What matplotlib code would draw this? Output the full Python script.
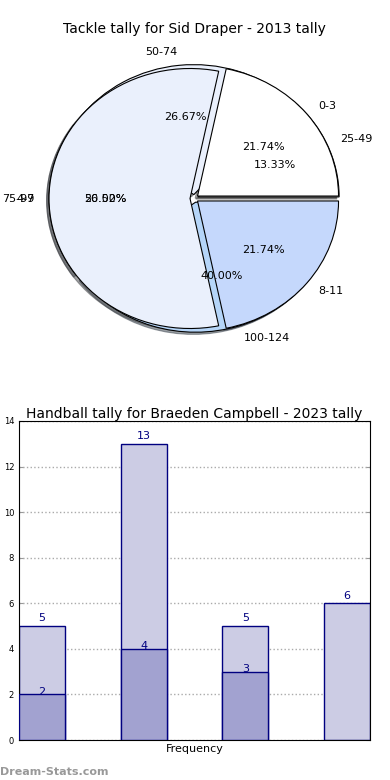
import numpy as np
import matplotlib
matplotlib.use('Agg')
import matplotlib.pyplot as plt

# pie data: two overlaid pies
pie_a_labels = ['0-3', '4-7', '8-11']
pie_a_values = [5, 13, 5]
pie_a_colors = ['#ffffff', '#eaf0fc', '#c5d8fc']

pie_b_labels = ['25-49', '50-74', '75-99', '100-124']
pie_b_values = [2, 4, 3, 6]
pie_b_colors = ['#ffffff', '#eaf0fc', '#d4e3fb', '#b5d5f8']

# bar data
bar_total = [5, 13, 5, 6]
bar_part = [2, 4, 3]

fig = plt.figure(figsize=(3.9, 7.8), dpi=100)

# --- pie ---
ax1 = fig.add_axes([18 / 390, 1 - 361 / 780, 352.5 / 390, 325 / 780])
wedge_kw = {'edgecolor': 'black', 'linewidth': 0.8}
for labels, values, colors in [(pie_b_labels, pie_b_values, pie_b_colors),
                               (pie_a_labels, pie_a_values, pie_a_colors)]:
    ax1.pie(values, labels=labels, colors=colors, explode=[0.03] * len(values),
            autopct='%1.2f%%', shadow={'ox': -0.012, 'oy': -0.012},
            wedgeprops=wedge_kw, textprops={'fontsize': 8})
ax1.set_aspect('auto')
ax1.set_xlim(-1.25, 1.25)
ax1.set_ylim(-1.25, 1.25)
ax1.set_title('Tackle tally for Sid Draper - 2013 tally', fontsize=10, pad=-1.5)

# --- bars ---
ax2 = fig.add_axes([19 / 390, 40 / 780, 351 / 390, 319 / 780])
x = np.arange(len(bar_total))
ax2.bar(x, bar_total, width=0.45, align='edge', color='#cccce4',
        edgecolor='#000080', linewidth=1, zorder=2)
ax2.bar(x[:len(bar_part)], bar_part, width=0.45, align='edge', color='#a2a2d0',
        edgecolor='#000080', linewidth=1, zorder=3)
for xi, h in zip(x, bar_total):
    ax2.text(xi + 0.225, h + 0.12, str(h), ha='center', va='bottom',
             color='#000080', fontsize=8, zorder=4)
for xi, h in zip(x, bar_part):
    ax2.text(xi + 0.225, h - 0.1, str(h), ha='center', va='bottom',
             color='#000080', fontsize=8, zorder=4)
ax2.set_xlim(0, 3.45)
ax2.set_ylim(0, 14)
ax2.set_yticks(range(0, 15, 2))
ax2.set_xticks([])
ax2.tick_params(axis='y', labelsize=6, direction='in', right=True, length=3,
                color='#999999')
ax2.grid(axis='y', linestyle=':', color='#aaaaaa', linewidth=1, zorder=0)
ax2.set_axisbelow(True)
ax2.set_xlabel('Frequency', fontsize=8, labelpad=3)
ax2.set_ylabel('Dist Intervals', fontsize=8, labelpad=4)
ax2.set_title('Handball tally for Braeden Campbell - 2023 tally', fontsize=10, pad=2)

fig.text(0.0, 0.007, 'Dream-Stats.com', fontsize=8, color='#999999',
         fontweight='bold')

fig.savefig('out.png', dpi=100)
